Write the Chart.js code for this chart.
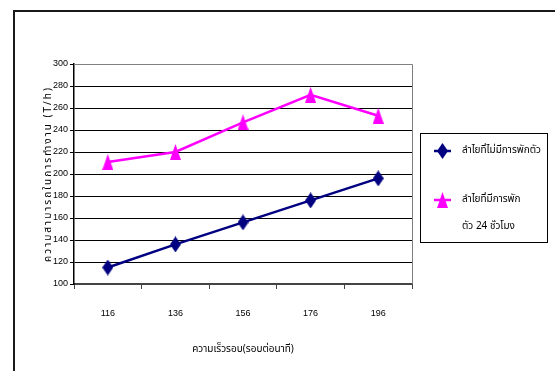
<!DOCTYPE html>
<html>
<head>
<meta charset="utf-8">
<script src="https://cdn.jsdelivr.net/npm/chart.js@4.4.1/dist/chart.umd.min.js"></script>
<style>
  html, body { margin: 0; padding: 0; background: #fff; }
  #wrap { position: relative; width: 555px; height: 371px; }
</style>
</head>
<body>
<div id="wrap"><canvas id="c" width="555" height="371"></canvas></div>
<script>
// Rotor speed (rounds per minute) and working capacity (T/h)
const speeds = ['116', '136', '156', '176', '196'];
const noRest = [115, 136, 156, 176, 196];
const rest24h = [211, 220, 247, 272, 253];
const seriesNames = ['ลำไยที่ไม่มีการพักตัว', 'ลำไยที่มีการพักตัว 24 ชั่วโมง'];
const legendLines = [['ลำไยที่ไม่มีการพักตัว'], ['ลำไยที่มีการพัก', 'ตัว 24 ชั่วโมง']];
const xTitle = 'ความเร็วรอบ(รอบต่อนาที)';
const yTitle = 'ความสามารถในการทำงาน (T/h)';

const NARROW = '"Liberation Sans Narrow", "Arial Narrow", "Liberation Sans", Arial, sans-serif';
const THAI = '"Noto Sans Thai", "Tahoma", "Liberation Sans", "DejaVu Sans", sans-serif';
const NAVY = '#000080';
const MAGENTA = '#FF00FF';

// Tall narrow marker glyphs
function makeMarker(kind, color) {
  const w = 11, h = 16;
  const cv = document.createElement('canvas');
  cv.width = w; cv.height = h;
  const g = cv.getContext('2d');
  g.fillStyle = color;
  g.beginPath();
  if (kind === 'diamond') {
    g.moveTo(w / 2, 0); g.lineTo(w, h / 2); g.lineTo(w / 2, h); g.lineTo(0, h / 2);
  } else {
    g.moveTo(w / 2, 0); g.lineTo(w, h); g.lineTo(0, h);
  }
  g.closePath();
  g.fill();
  return cv;
}
const diamond = makeMarker('diamond', NAVY);
const triangle = makeMarker('triangle', MAGENTA);

const frame = {
  id: 'frame',
  beforeDraw(chart) {
    const ctx = chart.ctx;
    ctx.save();
    ctx.fillStyle = '#fff';
    ctx.fillRect(0, 0, chart.width, chart.height);
    ctx.strokeStyle = '#1a1a1a';
    ctx.lineWidth = 2;
    ctx.beginPath();
    ctx.moveTo(14, chart.height);
    ctx.lineTo(14, 11);
    ctx.lineTo(chart.width, 11);
    ctx.stroke();
    ctx.restore();
  },
  afterDraw(chart) {
    const ctx = chart.ctx;
    const a = chart.chartArea;
    ctx.save();
    // plot border (top and right)
    ctx.strokeStyle = '#808080';
    ctx.lineWidth = 1;
    ctx.beginPath();
    ctx.moveTo(a.left, a.top + 0.5);
    ctx.lineTo(a.right + 0.5, a.top + 0.5);
    ctx.lineTo(a.right + 0.5, a.bottom);
    ctx.stroke();

    // axis titles
    ctx.fillStyle = '#000';
    ctx.textAlign = 'center';
    ctx.textBaseline = 'middle';
    ctx.font = '10px ' + THAI;
    ctx.fillText(xTitle, (a.left + a.right) / 2, 350);
    ctx.save();
    ctx.translate(49, (a.top + a.bottom) / 2);
    ctx.rotate(-Math.PI / 2);
    ctx.letterSpacing = '2px';
    ctx.fillText(yTitle, 0, 0);
    ctx.restore();

    // legend
    const bx = 420.5, by = 133.5, bw = 127, bh = 109;
    ctx.strokeStyle = '#000';
    ctx.lineWidth = 1;
    ctx.strokeRect(bx, by, bw, bh);
    const rows = [151, 200];
    const lineGap = 27;
    chart.data.datasets.forEach((ds, i) => {
      const y = rows[i];
      ctx.strokeStyle = ds.borderColor;
      ctx.lineWidth = 2.5;
      ctx.beginPath();
      ctx.moveTo(434, y);
      ctx.lineTo(451, y);
      ctx.stroke();
      const img = ds.pointStyle;
      ctx.drawImage(img, 442.5 - img.width / 2, y - img.height / 2);
      ctx.fillStyle = '#000';
      ctx.textAlign = 'left';
      ctx.font = '10px ' + THAI;
      legendLines[i].forEach((t, k) => ctx.fillText(t, 462, y + k * lineGap));
    });
    ctx.restore();
  }
};

new Chart(document.getElementById('c'), {
  type: 'line',
  data: {
    labels: speeds,
    datasets: [
      { label: seriesNames[0], data: noRest, borderColor: NAVY, backgroundColor: NAVY,
        borderWidth: 2.5, pointStyle: diamond, tension: 0 },
      { label: seriesNames[1], data: rest24h, borderColor: MAGENTA, backgroundColor: MAGENTA,
        borderWidth: 2.5, pointStyle: triangle, tension: 0 }
    ]
  },
  options: {
    responsive: false,
    animation: false,
    layout: { padding: { top: 64, right: 143, left: 0, bottom: 0 } },
    plugins: { legend: { display: false }, tooltip: { enabled: false } },
    scales: {
      x: {
        offset: true,
        grid: { display: true, offset: true, drawOnChartArea: false, drawTicks: true,
                tickLength: 5, color: '#444', tickColor: '#444', tickWidth: 1 },
        border: { color: '#444', width: 2 },
        ticks: { color: '#000', padding: 19, font: { family: NARROW, size: 9 }, maxRotation: 0 },
        afterFit(s) { s.height = 87; }
      },
      y: {
        min: 100, max: 300,
        ticks: { stepSize: 20, color: '#000', padding: 2, font: { family: NARROW, size: 9 } },
        grid: { color: (c) => (c.tick && c.tick.value === 300 ? '#808080' : '#000'),
                lineWidth: 1, drawTicks: true, tickLength: 4, tickColor: '#000' },
        border: { color: '#000', width: 1.5 },
        afterFit(s) { s.width = 74; }
      }
    }
  },
  plugins: [frame]
});
</script>
</body>
</html>
